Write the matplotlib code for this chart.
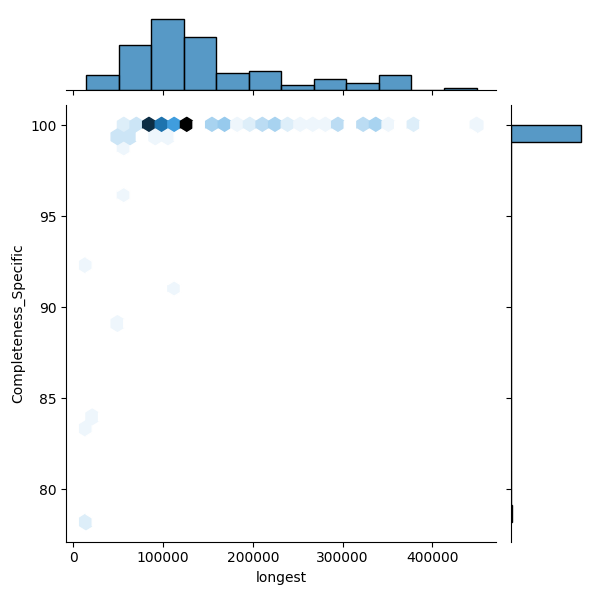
import numpy as np
import pandas as pd
import matplotlib
matplotlib.use("Agg")
import matplotlib.pyplot as plt
import seaborn as sns

# distinct (longest, Completeness_Specific) pairs and how many rows share each
longest_vals = [14100, 14100, 14100, 21100, 49200, 56200, 56200, 112400,
                47500, 49500, 51500, 61000, 63000, 65000, 91300, 105400,
                56200, 70300, 80000, 84000, 88000, 98400, 112400, 121500,
                126500, 154500, 160500, 168600, 182600, 193000, 199000,
                210700, 224700, 238800, 252800, 270000, 280900, 294900,
                323000, 342000, 351100, 375000, 449400]
completeness_vals = [78.2, 83.33, 92.3, 83.97, 89.1, 96.3, 98.7, 91.0,
                     99.36, 99.36, 99.36, 99.36, 99.36, 99.36, 99.36, 99.36,
                     100, 100, 100, 100, 100, 100, 100, 100,
                     100, 100, 100, 100, 100, 100, 100,
                     100, 100, 100, 100, 100, 100, 100,
                     100, 100, 100, 100, 100]
row_counts = [2, 1, 1, 1, 1, 1, 1, 1,
              1, 1, 1, 1, 1, 1, 1, 1,
              2, 3, 6, 7, 8, 15, 11, 1,
              24, 4, 1, 6, 1, 1, 1,
              4, 5, 2, 1, 1, 1, 4,
              4, 5, 1, 2, 1]

df = pd.DataFrame({
    "longest": np.repeat(longest_vals, row_counts),
    "Completeness_Specific": np.repeat(completeness_vals, row_counts),
})

g = sns.JointGrid(data=df, x="longest", y="Completeness_Specific", height=6)

# same light-to-dark ramp that jointplot(kind="hex") builds from C0
color_rgb = matplotlib.colors.to_rgb("C0")
colors = [sns.utils.set_hls_values(color_rgb, l=l) for l in np.linspace(1, 0, 12)]
cmap = sns.blend_palette(colors, as_cmap=True)

g.plot_joint(plt.hexbin, gridsize=31, cmap=cmap)
sns.histplot(data=df, x="longest", bins=12, color="C0", ax=g.ax_marg_x)
sns.histplot(data=df, y="Completeness_Specific", bins=23, color="C0", ax=g.ax_marg_y)

g.figure.savefig("out.png", dpi=100)
